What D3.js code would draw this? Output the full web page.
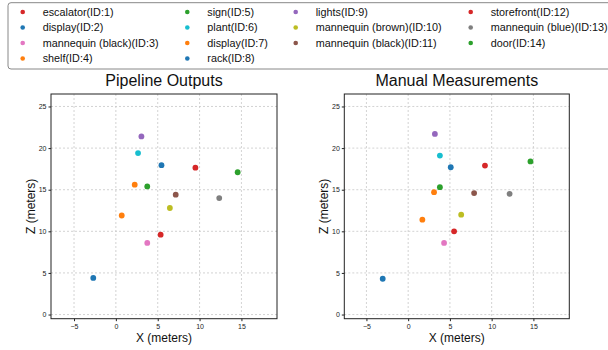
<!DOCTYPE html>
<html>
<head>
<meta charset="utf-8">
<script src="https://cdn.jsdelivr.net/npm/d3@7"></script>
<style>
  body { margin: 0; background: #fff; }
  svg { font-family: Arial, "Liberation Sans", sans-serif; }
  .axis path, .axis line { stroke: #222; }
  .axis text { font-size: 7px; fill: #222; }
  .grid line { stroke: #c8c8c8; stroke-dasharray: 2,2; stroke-width: 0.8; }
</style>
</head>
<body>
<script>
const labels = ['escalator(ID:1)', 'display(ID:2)', 'mannequin (black)(ID:3)', 'shelf(ID:4)',
    'sign(ID:5)', 'plant(ID:6)', 'display(ID:7)', 'rack(ID:8)', 'lights(ID:9)',
    'mannequin (brown)(ID:10)', 'mannequin (black)(ID:11)', 'storefront(ID:12)',
    'mannequin (blue)(ID:13)', 'door(ID:14)'];
const colors = ['#d62728', '#1f77b4', '#e377c2', '#ff7f0e', '#2ca02c', '#17becf', '#ff7f0e',
    '#1f77b4', '#9467bd', '#bcbd22', '#8c564b', '#d62728', '#7f7f7f', '#2ca02c'];

const pipelineX = [9.5, 5.45, 3.75, 0.7, 3.75, 2.65, 2.25, -2.7, 3.05, 6.45, 7.15, 5.35, 12.35, 14.55];
const pipelineZ = [17.65, 17.95, 8.6, 11.9, 15.4, 19.4, 15.6, 4.4, 21.4, 12.8, 14.4, 9.6, 14.0, 17.1];
const manualX = [9.2, 5.1, 4.3, 1.7, 3.8, 3.8, 3.1, -3.05, 3.2, 6.35, 7.9, 5.5, 12.15, 14.65];
const manualZ = [17.9, 17.7, 8.6, 11.4, 15.3, 19.1, 14.7, 4.3, 21.7, 12.0, 14.6, 10.0, 14.5, 18.4];

const xTicks = [-5, 0, 5, 10, 15];
const zTicks = [0, 5, 10, 15, 20, 25];

const width = 608, height = 350;
const svg = d3.select('body').append('svg')
    .attr('width', width)
    .attr('height', height);

// legend, 4 columns filled top to bottom (4, 4, 3, 3); box runs past the right edge
const legend = svg.append('g');
legend.append('rect')
    .attr('x', 8).attr('y', 2.7)
    .attr('width', 605).attr('height', 66.3)
    .attr('rx', 3)
    .attr('fill', '#fff')
    .attr('stroke', '#888');
const colX = [22.7, 187.3, 295.7, 470.7];
const colStart = [0, 4, 8, 11, 14];
labels.forEach((name, i) => {
    const col = d3.bisectRight(colStart, i) - 1;
    const row = i - colStart[col];
    const cy = 12 + row * 15.5;
    legend.append('circle')
        .attr('cx', colX[col]).attr('cy', cy).attr('r', 2.3)
        .attr('fill', colors[i]);
    legend.append('text')
        .attr('x', colX[col] + 20).attr('y', cy + 3.8)
        .attr('font-size', 10.8)
        .attr('fill', '#111')
        .text(name);
});

function drawPanel(title, xs, zs, box, xDomain) {
    const x = d3.scaleLinear().domain(xDomain).range([box.left, box.right]);
    const y = d3.scaleLinear().domain([-0.5, 26.5]).range([box.bottom, box.top]);
    const g = svg.append('g');

    g.append('g').attr('class', 'grid')
        .selectAll('line').data(xTicks).enter().append('line')
        .attr('x1', d => x(d)).attr('x2', d => x(d))
        .attr('y1', box.top).attr('y2', box.bottom);
    g.append('g').attr('class', 'grid')
        .selectAll('line').data(zTicks).enter().append('line')
        .attr('x1', box.left).attr('x2', box.right)
        .attr('y1', d => y(d)).attr('y2', d => y(d));

    g.append('g').attr('class', 'axis')
        .attr('transform', `translate(0,${box.bottom})`)
        .call(d3.axisBottom(x).tickValues(xTicks).tickSize(2.5).tickPadding(3))
        .call(s => s.select('.domain').remove());
    g.append('g').attr('class', 'axis')
        .attr('transform', `translate(${box.left},0)`)
        .call(d3.axisLeft(y).tickValues(zTicks).tickSize(2.5).tickPadding(2))
        .call(s => s.select('.domain').remove());

    g.append('rect')
        .attr('x', box.left).attr('y', box.top)
        .attr('width', box.right - box.left).attr('height', box.bottom - box.top)
        .attr('fill', 'none').attr('stroke', '#222').attr('stroke-width', 1);

    g.append('g').selectAll('circle').data(xs).enter().append('circle')
        .attr('cx', d => x(d))
        .attr('cy', (d, i) => y(zs[i]))
        .attr('r', 2.9)
        .attr('fill', (d, i) => colors[i]);

    const cx = (box.left + box.right) / 2;
    g.append('text')
        .attr('x', cx).attr('y', 86)
        .attr('text-anchor', 'middle')
        .attr('font-size', 16)
        .attr('fill', '#111')
        .text(title);
    g.append('text')
        .attr('x', cx).attr('y', 342)
        .attr('text-anchor', 'middle')
        .attr('font-size', 12)
        .attr('fill', '#111')
        .text('X (meters)');
    g.append('text')
        .attr('transform', `translate(${box.left - 16},${(box.top + box.bottom) / 2}) rotate(-90)`)
        .attr('text-anchor', 'middle')
        .attr('font-size', 12)
        .attr('fill', '#111')
        .text('Z (meters)');
}

drawPanel('Pipeline Outputs', pipelineX, pipelineZ,
    {left: 51, right: 277, top: 94, bottom: 318.7}, [-7.75, 19.25]);
drawPanel('Manual Measurements', manualX, manualZ,
    {left: 344.3, right: 569.3, top: 94, bottom: 318.7}, [-7.65, 19.3]);
</script>
</body>
</html>
